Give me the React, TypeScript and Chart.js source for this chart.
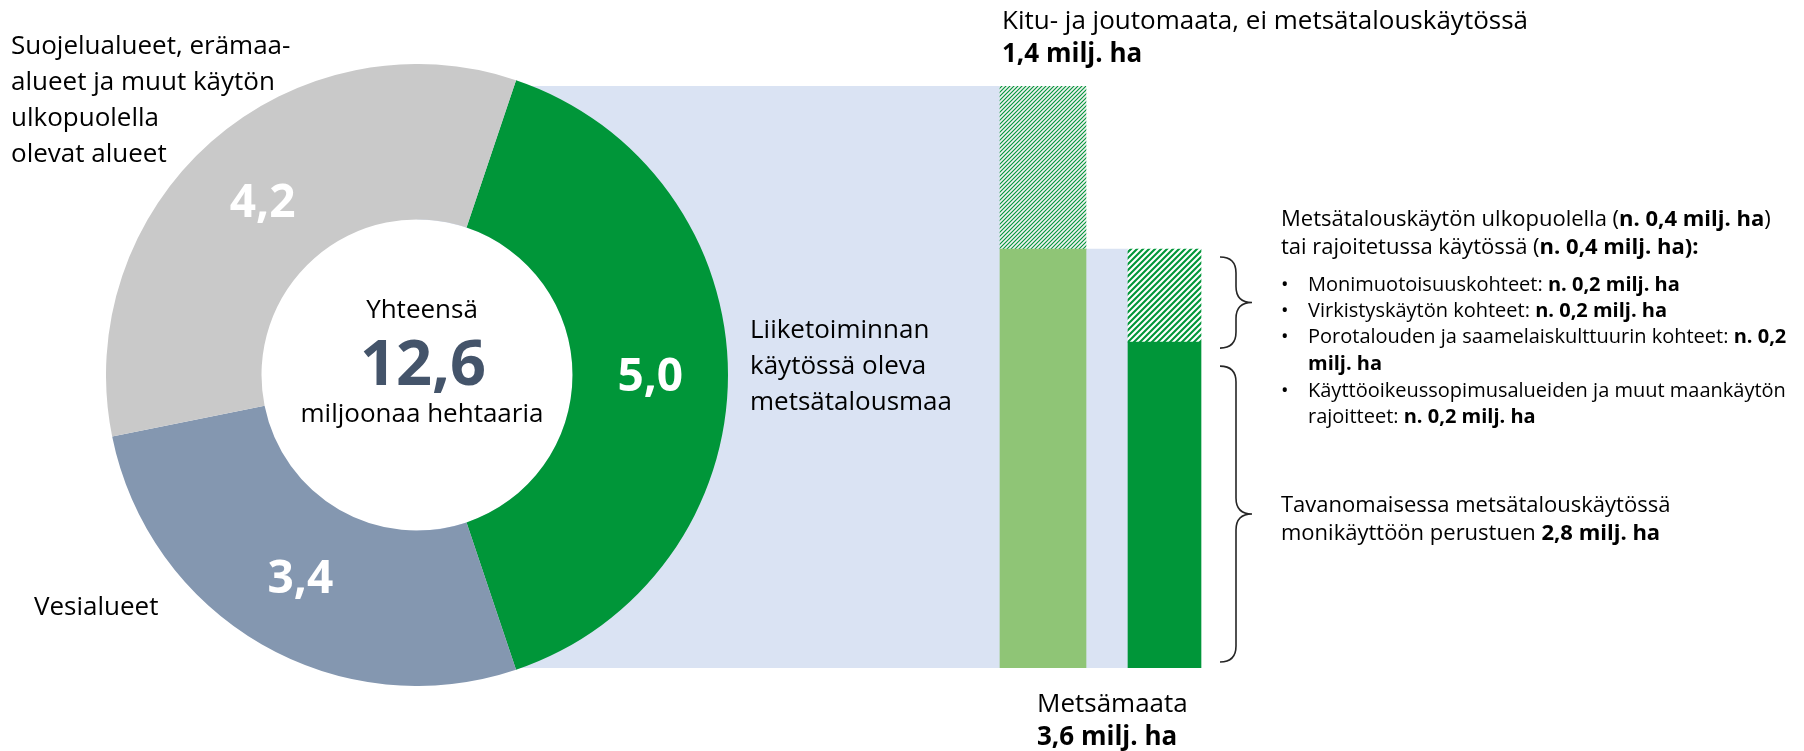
import React, { useEffect, useRef } from 'react';
import { Chart, registerables } from 'chart.js';

Chart.register(...registerables);

// ---------------- Data ----------------
const ringCategories = [
  'Liiketoiminnan käytössä oleva metsätalousmaa',
  'Vesialueet',
  'Suojelualueet, erämaa-alueet ja muut käytön ulkopuolella olevat alueet',
];
const ringValues = [5.0, 3.4, 4.2];

const landCategories = ['Metsämaata', 'Kitu- ja joutomaata, ei metsätalouskäytössä'];
const landValues = [3.6, 1.4];

const forestUseCategories = [
  'Tavanomaisessa metsätalouskäytössä monikäyttöön perustuen',
  'Metsätalouskäytön ulkopuolella tai rajoitetussa käytössä',
];
const forestUseValues = [2.8, 0.8];

const outsideUseValues = [0.4, 0.4]; // ulkopuolella, rajoitetussa käytössä

const restrictionCategories = [
  'Monimuotoisuuskohteet',
  'Virkistyskäytön kohteet',
  'Porotalouden ja saamelaiskulttuurin kohteet',
  'Käyttöoikeussopimusalueiden ja muut maankäytön rajoitteet',
];
const restrictionValues = [0.2, 0.2, 0.2, 0.2];

// ---------------- Layout & style ----------------
const W = 1804;
const H = 751;
const CX = 417;
const CY = 375;
const R = 311;
const BAR_TOP = 86; // pixel of the top of the value range
const BAR_BASE = 668; // pixel of value 0
const BAND_LEFT = 417;
const COL1 = [1000, 1086];
const COL2 = [1128, 1201];

const GREEN = '#009639';
const LIGHT_GREEN = '#8FC576';
const BLUE_GRAY = '#8497B0';
const GRAY = '#C9C9C9';
const BAND = '#DAE3F3';
const DARK = '#44546A';
const FONT = "'Open Sans', 'Noto Sans', sans-serif";

const fmt = (v: number) => v.toFixed(1).replace('.', ',');
const sum = (a: number[]) => a.reduce((s, v) => s + v, 0);

function makeHatch(size: number, lineW: number, color: string, bg: string) {
  const c = document.createElement('canvas');
  c.width = size;
  c.height = size;
  const g = c.getContext('2d')!;
  g.fillStyle = bg;
  g.fillRect(0, 0, size, size);
  g.strokeStyle = color;
  g.lineWidth = lineW;
  g.beginPath();
  g.moveTo(0, size);
  g.lineTo(size, 0);
  g.moveTo(-size / 2, size / 2);
  g.lineTo(size / 2, -size / 2);
  g.moveTo(size / 2, size * 1.5);
  g.lineTo(size * 1.5, size / 2);
  g.stroke();
  return g.createPattern(c, 'repeat')!;
}

function drawBrace(ctx: CanvasRenderingContext2D, x: number, y1: number, y2: number, w: number) {
  const r = w / 2;
  const mid = (y1 + y2) / 2;
  ctx.beginPath();
  ctx.moveTo(x, y1);
  ctx.quadraticCurveTo(x + r, y1, x + r, y1 + r);
  ctx.lineTo(x + r, mid - r);
  ctx.quadraticCurveTo(x + r, mid, x + w, mid);
  ctx.quadraticCurveTo(x + r, mid, x + r, mid + r);
  ctx.lineTo(x + r, y2 - r);
  ctx.quadraticCurveTo(x + r, y2, x, y2);
  ctx.stroke();
}

const bracePlugin = {
  id: 'braces',
  afterDatasetsDraw(chart: any) {
    const { ctx, scales } = chart;
    const x = scales.x.getPixelForValue(COL2[1]) + 19;
    const yTop = scales.y.getPixelForValue(sum(forestUseValues));
    const yMid = scales.y.getPixelForValue(forestUseValues[0]);
    const yBase = scales.y.getPixelForValue(0);
    ctx.save();
    ctx.strokeStyle = '#262626';
    ctx.lineWidth = 1.6;
    drawBrace(ctx, x, yTop + 8, yMid + 6, 32);
    drawBrace(ctx, x, yMid + 24, yBase - 6, 32);
    ctx.restore();
  },
};

const ringPlugin = {
  id: 'ringDecor',
  beforeDatasetsDraw(chart: any) {
    const arc = chart.getDatasetMeta(0).data[0];
    if (!arc) return;
    const { x, y, innerRadius } = arc.getProps(['x', 'y', 'innerRadius'], true);
    const ctx = chart.ctx;
    ctx.save();
    ctx.fillStyle = '#ffffff';
    ctx.beginPath();
    ctx.arc(x, y, innerRadius, 0, Math.PI * 2);
    ctx.fill();
    ctx.restore();
  },
  afterDatasetsDraw(chart: any) {
    const ctx = chart.ctx;
    const size = 46;
    ctx.save();
    ctx.fillStyle = '#ffffff';
    ctx.font = `700 ${size}px ${FONT}`;
    ctx.textAlign = 'center';
    ctx.textBaseline = 'alphabetic';
    chart.getDatasetMeta(0).data.forEach((arc: any, i: number) => {
      const p = arc.getCenterPoint();
      ctx.fillText(fmt(ringValues[i]), p.x, p.y + size * 0.357);
    });
    ctx.restore();
  },
};

function Line({ x, base, size, bold = false, center = false, color = '#000', children }: any) {
  const lh = Math.round(size * 1.3);
  return (
    <div
      style={{
        position: 'absolute',
        left: x,
        top: base - lh / 2 - 0.388 * size,
        lineHeight: lh + 'px',
        height: lh,
        fontSize: size,
        fontWeight: bold ? 700 : 400,
        whiteSpace: 'nowrap',
        color,
        transform: center ? 'translateX(-50%)' : undefined,
      }}
    >
      {children}
    </div>
  );
}

const B = ({ children }: any) => <span style={{ fontWeight: 700 }}>{children}</span>;

export default function App() {
  const barRef = useRef<HTMLCanvasElement>(null);
  const ringRef = useRef<HTMLCanvasElement>(null);

  useEffect(() => {
    const thinHatch = makeHatch(4, 1.1, GREEN, '#F2F2F2');
    const boldHatch = makeHatch(6, 2.1, GREEN, '#FFFFFF');
    const c1 = (COL1[0] + COL1[1]) / 2;
    const w1 = COL1[1] - COL1[0];
    const c2 = (COL2[0] + COL2[1]) / 2;
    const w2 = COL2[1] - COL2[0];
    const yMax = sum(landValues);

    const bar = new Chart(barRef.current!, {
      type: 'bar',
      data: {
        datasets: [
          { label: landCategories[0], data: [{ x: c1, y: landValues[0] }], backgroundColor: LIGHT_GREEN, barThickness: w1, stack: 'land', grouped: false, borderWidth: 0, order: 1 },
          { label: landCategories[1], data: [{ x: c1, y: landValues[1] }], backgroundColor: thinHatch, barThickness: w1, stack: 'land', grouped: false, borderWidth: 0, order: 1 },
          { label: forestUseCategories[0], data: [{ x: c2, y: forestUseValues[0] }], backgroundColor: GREEN, barThickness: w2, stack: 'use', grouped: false, borderWidth: 0, order: 1 },
          { label: forestUseCategories[1], data: [{ x: c2, y: forestUseValues[1] }], backgroundColor: boldHatch, barThickness: w2, stack: 'use', grouped: false, borderWidth: 0, order: 1 },
          { label: ringCategories[0], data: [{ x: (BAND_LEFT + COL1[0]) / 2, y: ringValues[0] }], backgroundColor: BAND, barThickness: COL1[0] - BAND_LEFT, stack: 'band', grouped: false, borderWidth: 0, order: 2 },
          { label: landCategories[0] + ' ', data: [{ x: (COL1[0] + COL2[0]) / 2, y: landValues[0] }], backgroundColor: BAND, barThickness: COL2[0] - COL1[0], stack: 'step', grouped: false, borderWidth: 0, order: 2 },
        ] as any,
      },
      options: {
        responsive: false,
        animation: false,
        events: [],
        layout: { padding: { top: BAR_TOP, bottom: H - BAR_BASE, left: 0, right: 0 } },
        plugins: { legend: { display: false }, tooltip: { enabled: false } },
        scales: {
          x: { type: 'linear', min: 0, max: W, display: false, offset: false, grid: { display: false } },
          y: { type: 'linear', min: 0, max: yMax, stacked: true, display: false },
        },
      } as any,
      plugins: [bracePlugin],
    });

    const total = sum(ringValues);
    const ring = new Chart(ringRef.current!, {
      type: 'doughnut',
      data: {
        labels: ringCategories,
        datasets: [{ data: ringValues, backgroundColor: [GREEN, BLUE_GRAY, GRAY], borderWidth: 0, hoverOffset: 0 }],
      },
      options: {
        responsive: false,
        animation: false,
        events: [],
        cutout: '50%',
        rotation: 90 - (180 * ringValues[0]) / total,
        layout: { padding: 0 },
        plugins: { legend: { display: false }, tooltip: { enabled: false } },
      } as any,
      plugins: [ringPlugin],
    });

    return () => {
      bar.destroy();
      ring.destroy();
    };
  }, []);

  const total = sum(ringValues);

  return (
    <div
      style={{
        position: 'fixed',
        left: 0,
        top: 0,
        width: W,
        height: H,
        background: '#ffffff',
        overflow: 'hidden',
        fontFamily: FONT,
        color: '#000',
      }}
    >
      <canvas ref={barRef} width={W} height={H} style={{ position: 'absolute', left: 0, top: 0, width: W, height: H }} />
      <canvas ref={ringRef} width={2 * R} height={2 * R} style={{ position: 'absolute', left: CX - R, top: CY - R, width: 2 * R, height: 2 * R }} />

      {/* Ring labels */}
      <Line x={11} base={54} size={26}>Suojelualueet, erämaa-</Line>
      <Line x={11} base={90} size={26}>alueet ja muut käytön</Line>
      <Line x={11} base={126} size={26}>ulkopuolella</Line>
      <Line x={11} base={162} size={26}>olevat alueet</Line>
      <Line x={34} base={615} size={26}>{ringCategories[1]}</Line>
      <Line x={750} base={338} size={26}>Liiketoiminnan</Line>
      <Line x={750} base={374} size={26}>käytössä oleva</Line>
      <Line x={750} base={410} size={26}>metsätalousmaa</Line>

      {/* Centre */}
      <Line x={CX + 5} base={318} size={26} center>Yhteensä</Line>
      <Line x={CX + 6} base={385} size={63} bold center color={DARK}>{fmt(total)}</Line>
      <Line x={CX + 5} base={422} size={26} center>miljoonaa hehtaaria</Line>

      {/* Bars */}
      <Line x={1002} base={29} size={26}>{landCategories[1]}</Line>
      <Line x={1002} base={62} size={26} bold>{fmt(landValues[1])} milj. ha</Line>
      <Line x={1037} base={712} size={26}>{landCategories[0]}</Line>
      <Line x={1037} base={745} size={26} bold>{fmt(landValues[0])} milj. ha</Line>

      {/* Right block */}
      <Line x={1281} base={226} size={22}>
        Metsätalouskäytön ulkopuolella (<B>n. {fmt(outsideUseValues[0])} milj. ha</B>)
      </Line>
      <Line x={1281} base={254} size={22}>
        tai rajoitetussa käytössä (<B>n. {fmt(outsideUseValues[1])} milj. ha):</B>
      </Line>

      <Line x={1281} base={292} size={20}>•</Line>
      <Line x={1308} base={292} size={20}>
        {restrictionCategories[0]}: <B>n. {fmt(restrictionValues[0])} milj. ha</B>
      </Line>
      <Line x={1281} base={318} size={20}>•</Line>
      <Line x={1308} base={318} size={20}>
        {restrictionCategories[1]}: <B>n. {fmt(restrictionValues[1])} milj. ha</B>
      </Line>
      <Line x={1281} base={344} size={20}>•</Line>
      <Line x={1308} base={344} size={20}>
        {restrictionCategories[2]}: <B>n. {fmt(restrictionValues[2])}</B>
      </Line>
      <Line x={1308} base={371} size={20} bold>milj. ha</Line>
      <Line x={1281} base={398} size={20}>•</Line>
      <Line x={1308} base={398} size={20}>Käyttöoikeussopimusalueiden ja muut maankäytön</Line>
      <Line x={1308} base={424} size={20}>
        rajoitteet: <B>n. {fmt(restrictionValues[3])} milj. ha</B>
      </Line>

      <Line x={1281} base={512} size={22}>Tavanomaisessa metsätalouskäytössä</Line>
      <Line x={1281} base={540} size={22}>
        monikäyttöön perustuen <B>{fmt(forestUseValues[0])} milj. ha</B>
      </Line>
    </div>
  );
}
